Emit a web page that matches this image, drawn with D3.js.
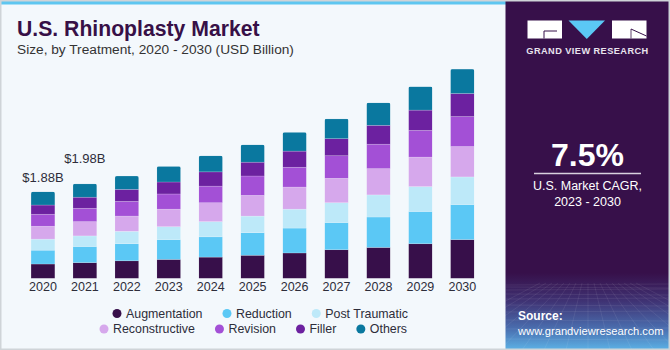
<!DOCTYPE html>
<html><head><meta charset="utf-8">
<script src="https://cdn.jsdelivr.net/npm/d3@7"></script>
<style>html,body{margin:0;padding:0;background:#fff;}svg{display:block;}</style>
</head><body>
<svg id="c" width="670" height="350"></svg>
<script>
const years = ["2020","2021","2022","2023","2024","2025","2026","2027","2028","2029","2030"];
const augmentation   = [0.31,0.34,0.38,0.41,0.46,0.50,0.55,0.62,0.67,0.75,0.84];
const reduction      = [0.30,0.35,0.37,0.43,0.44,0.49,0.54,0.59,0.66,0.70,0.76];
const postTraumatic  = [0.24,0.23,0.27,0.28,0.33,0.36,0.41,0.43,0.48,0.54,0.60];
const reconstructive = [0.28,0.31,0.33,0.38,0.41,0.45,0.48,0.53,0.57,0.64,0.66];
const revision       = [0.26,0.29,0.32,0.33,0.36,0.42,0.43,0.49,0.53,0.58,0.65];
const filler         = [0.20,0.24,0.26,0.26,0.31,0.30,0.35,0.37,0.41,0.44,0.50];
const others         = [0.29,0.29,0.29,0.34,0.35,0.38,0.41,0.43,0.49,0.51,0.53];
const seriesNames = ["Augmentation","Reduction","Post Traumatic","Reconstructive","Revision","Filler","Others"];
const seriesColors = ["#370f4a","#5bc8f5","#bde9f9","#d6a8ec","#a350d6","#6c21a0","#0a789f"];
const valueLabels = ["$1.88B","$1.98B"];
const labelGap = [10, 20.5];

const seriesValues = [augmentation, reduction, postTraumatic, reconstructive, revision, filler, others];
const rows = years.map((yr,i)=>{ const o={year:yr}; seriesNames.forEach((n,k)=>o[n]=seriesValues[k][i]); return o; });

const svg = d3.select("#c");
const FONT = "'Liberation Sans', Arial, sans-serif";

// backgrounds
svg.append("rect").attr("x",0).attr("y",0).attr("width",670).attr("height",350).attr("fill","#f3f8fc");
svg.append("rect").attr("x",0).attr("y",0).attr("width",506).attr("height",4.5).attr("fill","#5ec6f0");

// right panel
const defs = svg.append("defs");
const g1 = defs.append("linearGradient").attr("id","pg").attr("x1",0).attr("y1",0).attr("x2",0).attr("y2",1);
g1.append("stop").attr("offset","0").attr("stop-color","#37104a");
g1.append("stop").attr("offset","0.78").attr("stop-color","#37104a");
g1.append("stop").attr("offset","0.86").attr("stop-color","#3f3273");
g1.append("stop").attr("offset","0.94").attr("stop-color","#4a6fb0");
g1.append("stop").attr("offset","1").attr("stop-color","#5cb2e6");
svg.append("rect").attr("x",505.5).attr("y",0).attr("width",164.5).attr("height",350).attr("fill","url(#pg)");
// faint perspective grid
const grid = svg.append("g").attr("stroke","#ffffff").attr("stroke-opacity",0.13).attr("stroke-width",0.6).attr("fill","none");
for(let k=0;k<12;k++){ const yy = 285 + k*k*0.5 + k*1.5; grid.append("line").attr("x1",506).attr("x2",670).attr("y1",yy).attr("y2",yy+ (k%2?1:-1)); }
for(let k=-8;k<=8;k++){ grid.append("line").attr("x1",588+k*6).attr("y1",283).attr("x2",588+k*22).attr("y2",350); }

// logo
const lg = svg.append("g");
lg.append("rect").attr("x",527.5).attr("y",20.5).attr("width",34.5).attr("height",18).attr("fill","#fff");
lg.append("path").attr("d","M544,38.5 L544,31 L557,31").attr("stroke","#37104a").attr("stroke-width",1).attr("fill","none");
lg.append("path").attr("d","M568.5,20.5 L605,20.5 L586.8,39 Z").attr("fill","#5bc8f5");
lg.append("rect").attr("x",612).attr("y",20.5).attr("width",34.5).attr("height",18).attr("fill","#fff");
lg.append("path").attr("d","M631,29 L646.5,36").attr("stroke","#37104a").attr("stroke-width",1).attr("fill","none");
lg.append("path").attr("d","M631,29 L631,38.5").attr("stroke","#37104a").attr("stroke-width",0.8).attr("fill","none");
svg.append("text").attr("x",587.5).attr("y",54).attr("text-anchor","middle").attr("fill","#e9e4ee")
  .attr("font-family",FONT).attr("font-weight","bold").attr("font-size",9.2).attr("letter-spacing",0.45).text("GRAND VIEW RESEARCH");

svg.append("text").attr("x",587.5).attr("y",166).attr("text-anchor","middle").attr("fill","#fff")
  .attr("font-family",FONT).attr("font-weight","bold").attr("font-size",32).text("7.5%");
svg.append("line").attr("x1",534).attr("x2",641).attr("y1",173.5).attr("y2",173.5).attr("stroke","#d8d0de").attr("stroke-width",1.3);
svg.append("text").attr("x",587.5).attr("y",189.5).attr("text-anchor","middle").attr("fill","#fff")
  .attr("font-family",FONT).attr("font-size",12.5).text("U.S. Market CAGR,");
svg.append("text").attr("x",587.5).attr("y",205.5).attr("text-anchor","middle").attr("fill","#fff")
  .attr("font-family",FONT).attr("font-size",12.5).text("2023 - 2030");
svg.append("text").attr("x",518).attr("y",319.5).attr("fill","#fff")
  .attr("font-family",FONT).attr("font-weight","bold").attr("font-size",12).text("Source:");
svg.append("text").attr("x",518).attr("y",334.5).attr("fill","#fff")
  .attr("font-family",FONT).attr("font-size",11.2).text("www.grandviewresearch.com");

// frame
svg.append("rect").attr("x",0.75).attr("y",0.75).attr("width",668.5).attr("height",348.5).attr("fill","none").attr("stroke","#cfd4d8").attr("stroke-width",1.5);

// title
svg.append("text").attr("x",17).attr("y",36).attr("fill","#371047")
  .attr("font-family",FONT).attr("font-weight","bold").attr("font-size",21.2).text("U.S. Rhinoplasty Market");
svg.append("text").attr("x",17).attr("y",54).attr("fill","#333")
  .attr("font-family",FONT).attr("font-size",13.7).text("Size, by Treatment, 2020 - 2030 (USD Billion)");

// scales
const x = d3.scaleBand().domain(years).range([22, 483.3]).paddingInner(0.43).paddingOuter(0.215);
const y = d3.scaleLinear().domain([0,5]).range([278.3, 47.9]);
const color = d3.scaleOrdinal().domain(seriesNames).range(seriesColors);
const stack = d3.stack().keys(seriesNames)(rows);
const totals = rows.map(r=>d3.sum(seriesNames,n=>r[n]));

years.forEach((yr,i)=>{
  defs.append("clipPath").attr("id","cl"+i).append("rect")
    .attr("x",x(yr)).attr("y",y(totals[i])).attr("width",x.bandwidth()).attr("height",y(0)-y(totals[i])+3).attr("rx",2);
});

const barsG = svg.append("g");
stack.forEach(layer=>{
  barsG.selectAll(null).data(layer).enter().append("rect")
    .attr("clip-path",(d,i)=>`url(#cl${i})`)
    .attr("x",d=>x(d.data.year)).attr("width",x.bandwidth())
    .attr("y",d=>y(d[1])).attr("height",d=>y(d[0])-y(d[1]))
    .attr("fill",color(layer.key))
    .attr("stroke","rgba(255,255,255,0.3)").attr("stroke-width",0.6);
});

// value labels
valueLabels.forEach((t,i)=>{
  svg.append("text").attr("x",x(years[i])+x.bandwidth()/2).attr("y",y(totals[i])-labelGap[i])
    .attr("text-anchor","middle").attr("fill","#2d2d3a").attr("font-family",FONT).attr("font-size",13).text(t);
});

// x axis
const ax = svg.append("g").attr("transform",`translate(0,${y(0)})`).call(d3.axisBottom(x).tickSize(0).tickPadding(4));
ax.select(".domain").remove();
ax.selectAll("text").attr("font-family",FONT).attr("font-size",12.5).attr("fill","#2d2d3a").attr("dy","0.71em");

// legend
const legendRows = [[0,1,2],[3,4,5,6]];
const legendStart = [117, 104];
const legendY = [313.5, 329];
const lgG = svg.append("g");
legendRows.forEach((row,ri)=>{
  let cx = legendStart[ri];
  row.forEach(k=>{
    lgG.append("circle").attr("cx",cx).attr("cy",legendY[ri]).attr("r",4.5).attr("fill",seriesColors[k]);
    const t = lgG.append("text").attr("x",cx+9).attr("y",legendY[ri]+4.3).attr("fill","#2d2d3a")
      .attr("font-family",FONT).attr("font-size",12.4).text(seriesNames[k]);
    const w = t.node().getComputedTextLength();
    cx = cx + 9 + w + 24.5;
  });
});
</script>
</body></html>
